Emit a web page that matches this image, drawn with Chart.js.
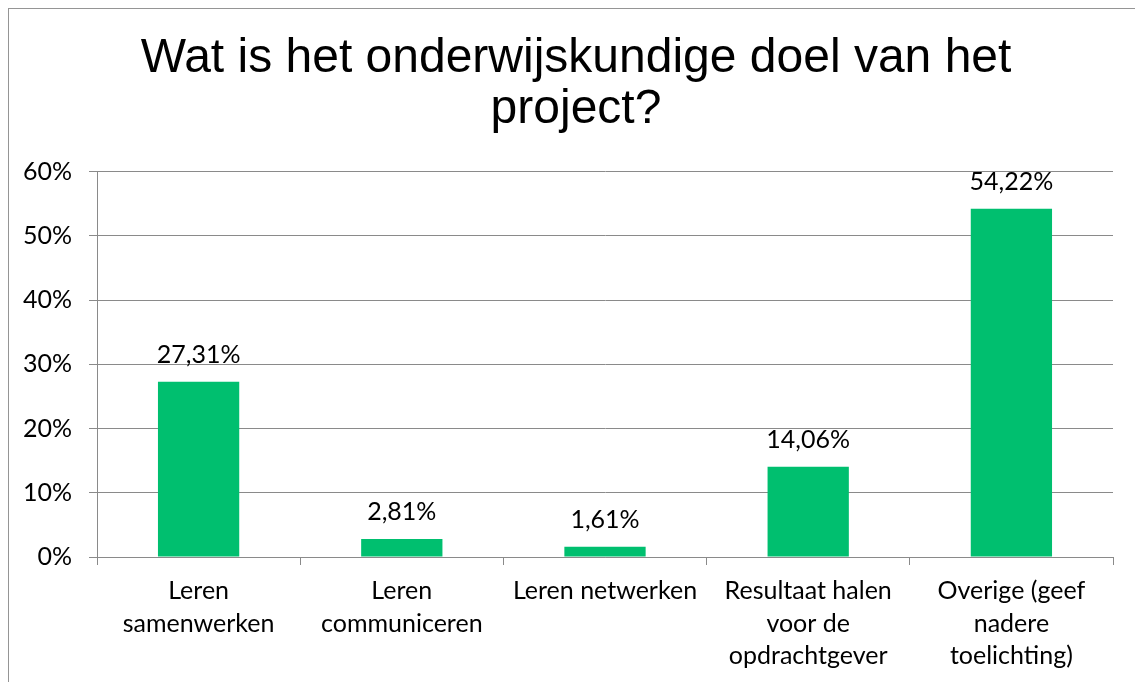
<!DOCTYPE html>
<html>
<head>
<meta charset="utf-8">
<script src="https://cdn.jsdelivr.net/npm/chart.js@4/dist/chart.umd.min.js"></script>
<style>
  html, body { margin: 0; padding: 0; overflow: hidden; background: #ffffff; width: 1135px; height: 682px; }
  #frame { position: absolute; left: 8px; top: 8px; width: 1140px; height: 690px; border: 1px solid #959595; background: #fff; }
  #c { position: absolute; left: 0; top: 0; }
</style>
</head>
<body>
<div id="frame"><canvas id="c" width="1134" height="680"></canvas></div>
<script>
const titleLines = ["Wat is het onderwijskundige doel van het", "project?"];
const categories = [
  ["Leren", "samenwerken"],
  ["Leren", "communiceren"],
  "Leren netwerken",
  ["Resultaat halen", "voor de", "opdrachtgever"],
  ["Overige (geef", "nadere", "toelichting)"]
];
const values = [27.31, 2.81, 1.61, 14.06, 54.22];
const yTickMin = 0, yTickMax = 60, yTickStep = 10;

const fmt = v => v.toFixed(2).replace('.', ',') + '%';
const labelFont = "Lato";
const gridColor = '#8a8a8a';

const dataLabels = {
  id: 'dataLabels',
  afterDatasetsDraw(chart) {
    const ctx = chart.ctx;
    const meta = chart.getDatasetMeta(0);
    ctx.save();
    ctx.font = '25px ' + labelFont;
    ctx.fillStyle = '#000';
    ctx.textAlign = 'center';
    ctx.textBaseline = 'alphabetic';
    meta.data.forEach((bar, i) => {
      ctx.fillText(fmt(values[i]), bar.x, bar.y - 19);
    });
    ctx.restore();
  }
};

// centre the title across the full chart width (like the original)
const fullWidthTitle = {
  id: 'fullWidthTitle',
  afterLayout(chart) {
    if (chart.titleBlock) {
      chart.titleBlock.left = 0;
      chart.titleBlock.right = chart.width;
    }
  }
};

new Chart(document.getElementById('c'), {
  type: 'bar',
  data: {
    labels: categories,
    datasets: [{
      data: values,
      backgroundColor: '#00BF6F',
      borderWidth: 0,
      categoryPercentage: 1.0,
      barPercentage: 0.4
    }]
  },
  options: {
    responsive: false,
    devicePixelRatio: 1,
    animation: false,
    layout: { padding: { left: 0, right: 30, top: 0, bottom: 0 } },
    plugins: {
      legend: { display: false },
      tooltip: { enabled: false },
      title: {
        display: true,
        text: titleLines,
        color: '#000',
        font: { family: 'Liberation Sans', size: 48, weight: 'normal', lineHeight: 1.07 },
        padding: { top: 24, bottom: 36 }
      }
    },
    scales: {
      x: {
        offset: true,
        grid: { display: true, drawOnChartArea: false, drawTicks: true, tickLength: 8, color: gridColor, offset: true },
        border: { display: true, color: gridColor },
        ticks: { color: '#000', font: { family: labelFont, size: 25, lineHeight: 1.3 }, padding: 10, maxRotation: 0, autoSkip: false },
        afterFit(scale) { scale.height = 132; }
      },
      y: {
        min: yTickMin,
        max: yTickMax,
        grid: { color: gridColor, drawTicks: true, tickLength: 8 },
        border: { display: true, color: gridColor },
        ticks: { stepSize: yTickStep, color: '#000', font: { family: labelFont, size: 25 }, padding: 17, callback: v => v + '%' },
        afterFit(scale) { scale.width = 88; }
      }
    }
  },
  plugins: [dataLabels, fullWidthTitle]
});
</script>
</body>
</html>
